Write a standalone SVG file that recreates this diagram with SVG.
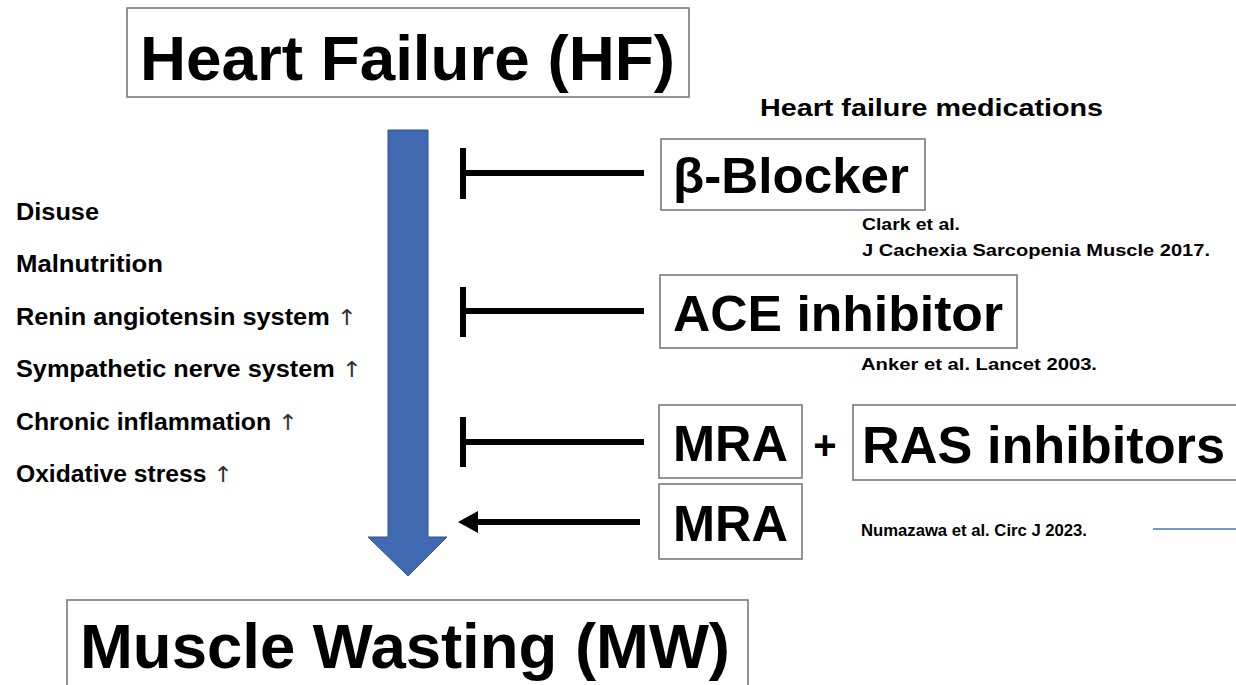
<svg xmlns="http://www.w3.org/2000/svg" width="1236" height="685" viewBox="0 0 1236 685">
  <style>
    .t { font-family: "Liberation Sans", Arial, sans-serif; font-weight: bold; fill: #000; }
    .box { fill: #fff; stroke: #7a7a7a; stroke-width: 1.6; }
    .big { font-size: 63px; }
    .med { font-size: 50px; }
    .lbl { font-size: 23px; }
    .cite { font-size: 17px; }
    .up { font-weight: normal; fill: #333; font-family: "DejaVu Sans", sans-serif; font-size: 22px; }
    .con { stroke: #000; stroke-width: 6; fill: none; }
  </style>
  <rect width="1236" height="685" fill="#fff"/>

  <g id="hf">
    <rect class="box" x="127" y="8" width="562" height="89"/>
    <text class="t big" x="140" y="80" textLength="535" lengthAdjust="spacingAndGlyphs">Heart Failure (HF)</text>
  </g>

  <g id="mw">
    <rect class="box" x="67" y="600" width="681" height="100"/>
    <text class="t big" x="80" y="668" textLength="650" lengthAdjust="spacingAndGlyphs">Muscle Wasting (MW)</text>
  </g>

  <g id="main-arrow">
    <polygon points="388,130 428,130 428,537 447,537 408,576 368,537 388,537" fill="#4169B1" stroke="#2F528F" stroke-width="1"/>
  </g>

  <g id="factors">
    <text class="t lbl" x="16" y="220" textLength="83" lengthAdjust="spacingAndGlyphs">Disuse</text>
    <text class="t lbl" x="16" y="272" textLength="147" lengthAdjust="spacingAndGlyphs">Malnutrition</text>
    <text class="t lbl" x="16" y="325" textLength="341" lengthAdjust="spacingAndGlyphs">Renin angiotensin system <tspan class="up">↑</tspan></text>
    <text class="t lbl" x="16" y="377" textLength="346" lengthAdjust="spacingAndGlyphs">Sympathetic nerve system <tspan class="up">↑</tspan></text>
    <text class="t lbl" x="16" y="430" textLength="282" lengthAdjust="spacingAndGlyphs">Chronic inflammation <tspan class="up">↑</tspan></text>
    <text class="t lbl" x="16" y="482" textLength="217" lengthAdjust="spacingAndGlyphs">Oxidative stress <tspan class="up">↑</tspan></text>
  </g>

  <g id="medications-title">
    <text class="t lbl" x="760" y="116" textLength="343" lengthAdjust="spacingAndGlyphs">Heart failure medications</text>
  </g>

  <g id="beta-blocker">
    <rect class="box" x="661" y="139" width="264" height="71"/>
    <text class="t med" x="673" y="193" textLength="236" lengthAdjust="spacingAndGlyphs">β-Blocker</text>
  </g>
  <g id="cite-clark">
    <text class="t cite" x="862" y="230" textLength="98" lengthAdjust="spacingAndGlyphs">Clark et al.</text>
    <text class="t cite" x="862" y="256" textLength="348" lengthAdjust="spacingAndGlyphs">J Cachexia Sarcopenia Muscle 2017.</text>
  </g>

  <g id="ace-inhibitor">
    <rect class="box" x="660" y="275" width="357" height="73"/>
    <text class="t med" x="673" y="331" textLength="330" lengthAdjust="spacingAndGlyphs">ACE inhibitor</text>
  </g>
  <g id="cite-anker">
    <text class="t cite" x="861" y="370" textLength="236" lengthAdjust="spacingAndGlyphs">Anker et al. Lancet 2003.</text>
  </g>

  <g id="mra-combo">
    <rect class="box" x="659" y="405" width="143" height="73"/>
    <text class="t med" x="673" y="461" textLength="115" lengthAdjust="spacingAndGlyphs">MRA</text>
  </g>
  <g id="plus">
    <text class="t" x="825" y="459" font-size="40" text-anchor="middle">+</text>
  </g>
  <g id="ras-inhibitors">
    <rect class="box" x="853" y="405" width="400" height="75"/>
    <text class="t" x="862" y="463" font-size="52" textLength="363" lengthAdjust="spacingAndGlyphs">RAS inhibitors</text>
  </g>

  <g id="mra">
    <rect class="box" x="659" y="484" width="143" height="75"/>
    <text class="t med" x="673" y="541" textLength="115" lengthAdjust="spacingAndGlyphs">MRA</text>
  </g>
  <g id="cite-numazawa">
    <text class="t cite" x="861" y="536" textLength="226" lengthAdjust="spacingAndGlyphs">Numazawa et al. Circ J 2023.</text>
    <line x1="1153" y1="529" x2="1236" y2="529" stroke="#4472C4" stroke-width="1.5"/>
  </g>

  <g id="connectors">
    <path class="con" d="M463,148 V199 M463,173 H644"/>
    <path class="con" d="M463,287 V337 M463,311 H644"/>
    <path class="con" d="M463,417 V467 M463,442 H644"/>
    <path class="con" d="M640,522 H476"/>
    <polygon points="458,522 478,511 478,533" fill="#000"/>
  </g>
</svg>
